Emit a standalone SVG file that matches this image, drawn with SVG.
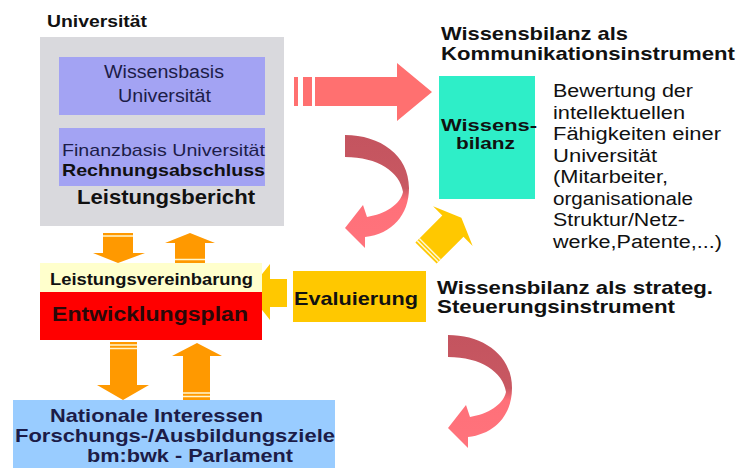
<svg xmlns="http://www.w3.org/2000/svg" width="737" height="468" viewBox="0 0 737 468">
<defs>
<style>
text{font-family:"Liberation Sans",Arial,sans-serif;fill:#111;}
.b{font-weight:bold;}
.n{font-weight:normal;}
.nv{fill:#1c1c48;}
.or{fill:#FF9900;}
.pk{fill:#FF7070;}
.st{stroke:#FFF7D0;stroke-width:1.5;fill:none;}
</style>
<linearGradient id="cg" x1="0" y1="0" x2="0" y2="1">
<stop offset="0" stop-color="#C4545F"/>
<stop offset="0.47" stop-color="#C85862"/>
<stop offset="0.58" stop-color="#FF7079"/>
<stop offset="1" stop-color="#FF737C"/>
</linearGradient>
<path id="curve" fill="url(#cg)" d="M345,135 C380,135 409,155 409,188 C409,215 392,234 365,237 L365,248 L345,228 L363,205 L367,217 C385,214 400,205 403,192 C400,172 378,157 345,157 Z"/>
</defs>
<rect width="737" height="468" fill="#FFFFFF"/>

<g id="connectors">
<rect class="pk" x="294" y="77" width="4" height="29"/>
<rect class="pk" x="303" y="77" width="9" height="29"/>
<path class="pk" d="M315,77 H397 V63 L432,92 L397,121 V106 H315 Z"/>
<use href="#curve"/>
<use href="#curve" transform="translate(103,200)"/>
<g transform="translate(426,253) rotate(-45)">
<path fill="#FFC800" d="M0,-15 H38 V-28 L50,0 L38,28 V15 H0 Z"/>
<line class="st" x1="2.5" y1="-15" x2="2.5" y2="15"/>
<line class="st" x1="5.5" y1="-15" x2="5.5" y2="15"/>
</g>
<path fill="#FFC800" d="M287,279 V307 H270 V320 L248,292 L270,264 V279 Z"/>
<path class="or" d="M103,233 H133 V253 H145 L118,263 L93,253 H103 Z"/>
<line class="st" x1="103" y1="236" x2="133" y2="236"/>
<path class="or" d="M190,233 L215,243 H205 V263 H175 V243 H165 Z"/>
<line class="st" x1="175" y1="259.5" x2="205" y2="259.5"/>
<path class="or" d="M110,342 H137 V385 H149 L123,400 L97,385 H110 Z"/>
<line class="st" x1="110" y1="345" x2="137" y2="345"/>
<line class="st" x1="110" y1="348.5" x2="137" y2="348.5"/>
<path class="or" d="M197,343 L222,356 H210 V402 H183 V356 H172 Z"/>
<line class="st" x1="183" y1="393" x2="210" y2="393"/>
<line class="st" x1="183" y1="396.5" x2="210" y2="396.5"/>
</g>

<g id="universitaet">
<text class="b" x="47" y="27" font-size="16.5" textLength="100" lengthAdjust="spacingAndGlyphs">Universität</text>
<rect x="40" y="37" width="244" height="189" fill="#D9D9DD"/>
<text class="b" x="77" y="204" font-size="19.5" textLength="178" lengthAdjust="spacingAndGlyphs">Leistungsbericht</text>
</g>

<g id="wissensbasis">
<rect x="59" y="57" width="206" height="58" fill="#A3A3F3"/>
<text class="nv" x="104" y="78" font-size="18" textLength="120" lengthAdjust="spacingAndGlyphs">Wissensbasis</text>
<text class="nv" x="118" y="102" font-size="18" textLength="93" lengthAdjust="spacingAndGlyphs">Universität</text>
</g>

<g id="finanzbasis">
<rect x="59" y="128" width="206" height="58" fill="#A3A3F3"/>
<text class="nv" x="62" y="156" font-size="17" textLength="203" lengthAdjust="spacingAndGlyphs">Finanzbasis Universität</text>
<text class="b" x="62" y="175.5" font-size="17" textLength="203" lengthAdjust="spacingAndGlyphs">Rechnungsabschluss</text>
</g>

<g id="wissensbilanz-title">
<text class="b" x="441" y="40" font-size="19" textLength="187" lengthAdjust="spacingAndGlyphs">Wissensbilanz als</text>
<text class="b" x="441" y="60" font-size="19" textLength="294" lengthAdjust="spacingAndGlyphs">Kommunikationsinstrument</text>
</g>

<g id="wissensbilanz">
<rect x="439" y="76" width="96" height="123" fill="#2EEEC8"/>
<text class="b" x="441" y="131" font-size="17" textLength="96" lengthAdjust="spacingAndGlyphs">Wissens-</text>
<text class="b" x="456" y="148.5" font-size="17" textLength="59" lengthAdjust="spacingAndGlyphs">bilanz</text>
</g>

<g id="bewertung">
<text x="553" y="97" font-size="18" textLength="140" lengthAdjust="spacingAndGlyphs">Bewertung der</text>
<text x="553" y="118.6" font-size="18" textLength="132" lengthAdjust="spacingAndGlyphs">intellektuellen</text>
<text x="553" y="140.1" font-size="18" textLength="168" lengthAdjust="spacingAndGlyphs">Fähigkeiten einer</text>
<text x="553" y="161.7" font-size="18" textLength="104" lengthAdjust="spacingAndGlyphs">Universität</text>
<text x="553" y="183.3" font-size="18" textLength="115" lengthAdjust="spacingAndGlyphs">(Mitarbeiter,</text>
<text x="553" y="204.9" font-size="18" textLength="140" lengthAdjust="spacingAndGlyphs">organisationale</text>
<text x="553" y="226.4" font-size="18" textLength="132" lengthAdjust="spacingAndGlyphs">Struktur/Netz-</text>
<text x="553" y="248" font-size="18" textLength="169" lengthAdjust="spacingAndGlyphs">werke,Patente,...)</text>
</g>

<g id="leistungsvereinbarung">
<rect x="40" y="263" width="222" height="29" fill="#FFFFCC"/>
<text class="b" x="50" y="285" font-size="16" textLength="203" lengthAdjust="spacingAndGlyphs">Leistungsvereinbarung</text>
</g>

<g id="entwicklungsplan">
<rect x="40" y="292" width="222" height="48" fill="#FF0000"/>
<text class="b" x="52" y="321" font-size="20" textLength="196" lengthAdjust="spacingAndGlyphs" style="fill:#2a0808">Entwicklungsplan</text>
</g>

<g id="evaluierung">
<rect x="293" y="271" width="133" height="51" fill="#FFC800"/>
<text class="b" x="294" y="305" font-size="19" textLength="124" lengthAdjust="spacingAndGlyphs">Evaluierung</text>
</g>

<g id="steuerung-title">
<text class="b" x="437" y="294" font-size="19" textLength="276" lengthAdjust="spacingAndGlyphs">Wissensbilanz als strateg.</text>
<text class="b" x="437" y="313" font-size="19" textLength="238" lengthAdjust="spacingAndGlyphs">Steuerungsinstrument</text>
</g>

<g id="nationale-interessen">
<rect x="13" y="400" width="322" height="68" fill="#99CCFF"/>
<text class="b nv" x="50" y="422" font-size="19" textLength="213" lengthAdjust="spacingAndGlyphs">Nationale Interessen</text>
<text class="b nv" x="15" y="442" font-size="19" textLength="320" lengthAdjust="spacingAndGlyphs">Forschungs-/Ausbildungsziele</text>
<text class="b nv" x="87" y="462" font-size="19" textLength="206" lengthAdjust="spacingAndGlyphs">bm:bwk - Parlament</text>
</g>
</svg>
